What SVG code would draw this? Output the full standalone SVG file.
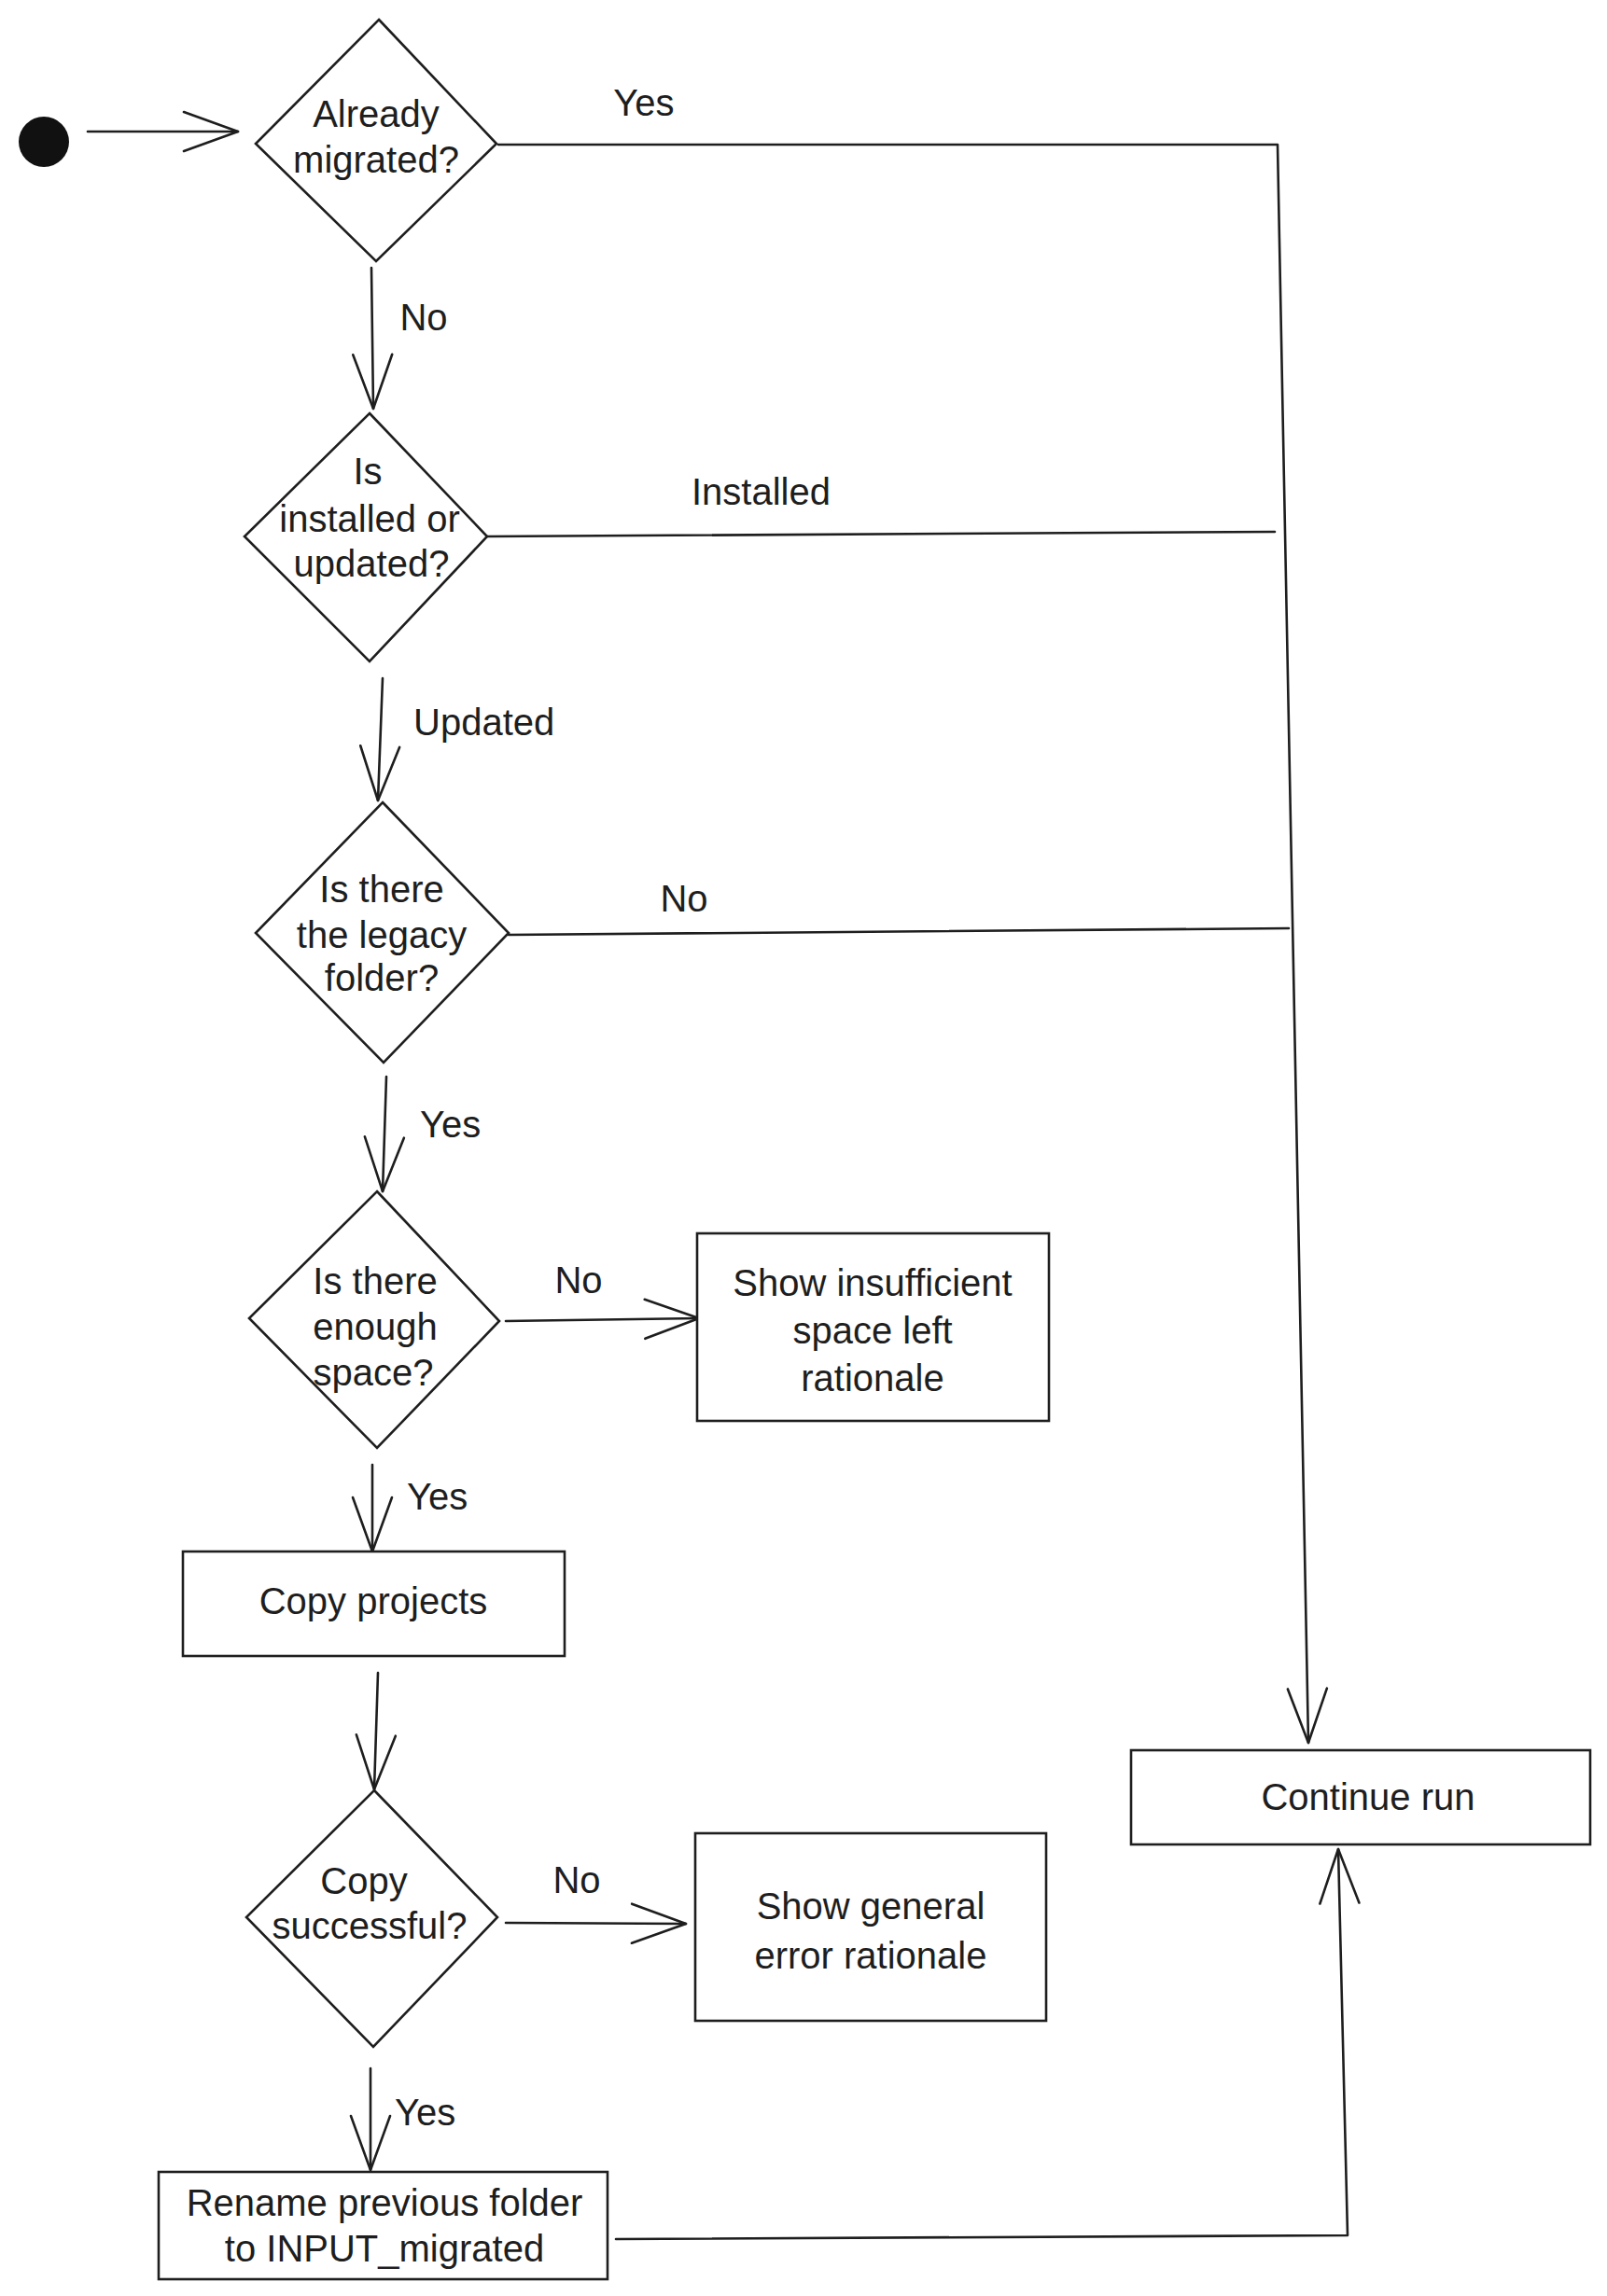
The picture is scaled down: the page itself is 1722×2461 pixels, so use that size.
<svg xmlns="http://www.w3.org/2000/svg" width="1722" height="2461" viewBox="0 0 1722 2461">
<style>
.shape{fill:#ffffff;stroke:#1e1e1e;stroke-width:2.6;stroke-linejoin:miter}
.edge{fill:none;stroke:#1e1e1e;stroke-width:2.6;stroke-linecap:round;stroke-linejoin:round}
.t{font-family:"Liberation Sans",Arial,sans-serif;font-size:40px;fill:#1e1e1e;text-anchor:middle}
.l{font-family:"Liberation Sans",Arial,sans-serif;font-size:40px;fill:#1e1e1e}
</style>
<defs>
<marker id="arr" viewBox="-64 -28 70 56" refX="0" refY="0" markerWidth="70" markerHeight="56" markerUnits="userSpaceOnUse" orient="auto">
<path d="M-58,-21 L0,0 L-58,21" fill="none" stroke="#1e1e1e" stroke-width="2.6" stroke-linecap="round" stroke-linejoin="round"/>
</marker>
</defs>
<rect width="1722" height="2461" fill="#ffffff"/>

<g id="connectors">
<path class="edge" d="M94,141 L255,141" marker-end="url(#arr)"/>
<path class="edge" d="M534,155 L1369,155 L1402,1868" marker-end="url(#arr)"/>
<path class="edge" d="M398,287 L400,438" marker-end="url(#arr)"/>
<path class="edge" d="M522,575 L1366,570"/>
<path class="edge" d="M410,727 L405,858" marker-end="url(#arr)"/>
<path class="edge" d="M545,1002 L1381,995"/>
<path class="edge" d="M414,1154 L410,1277" marker-end="url(#arr)"/>
<path class="edge" d="M542,1416 L749,1413" marker-end="url(#arr)"/>
<path class="edge" d="M399,1570 L399,1663" marker-end="url(#arr)"/>
<path class="edge" d="M405,1793 L401,1918" marker-end="url(#arr)"/>
<path class="edge" d="M542,2061 L735,2062" marker-end="url(#arr)"/>
<path class="edge" d="M397,2217 L397,2326" marker-end="url(#arr)"/>
<path class="edge" d="M660,2400 L1444,2396 L1434,1982" marker-end="url(#arr)"/>
<text class="l" x="690" y="124" text-anchor="middle">Yes</text>
<text class="l" x="454" y="354" text-anchor="middle">No</text>
<text class="l" x="741" y="541">Installed</text>
<text class="l" x="443" y="788">Updated</text>
<text class="l" x="733" y="977" text-anchor="middle">No</text>
<text class="l" x="450" y="1219">Yes</text>
<text class="l" x="620" y="1386" text-anchor="middle">No</text>
<text class="l" x="436" y="1618">Yes</text>
<text class="l" x="618" y="2029" text-anchor="middle">No</text>
<text class="l" x="423" y="2278">Yes</text>
</g>

<g id="start">
<circle cx="47" cy="152" r="27" fill="#111111"/>
</g>

<g id="already-migrated">
<polygon class="shape" points="406,21 532,154 403,280 274,154"/>
<text class="t" x="403" y="136">Already</text>
<text class="t" x="403" y="185">migrated?</text>
</g>

<g id="installed-or-updated">
<polygon class="shape" points="396,443 522,575 396,709 262,575"/>
<text class="t" x="394" y="519">Is</text>
<text class="t" x="396" y="570">installed or</text>
<text class="t" x="398" y="618">updated?</text>
</g>

<g id="legacy-folder">
<polygon class="shape" points="410,860 545,1000 411,1139 274,1000"/>
<text class="t" x="409" y="967">Is there</text>
<text class="t" x="409" y="1016">the legacy</text>
<text class="t" x="409" y="1062">folder?</text>
</g>

<g id="enough-space">
<polygon class="shape" points="404,1277 535,1416 404,1552 267,1413"/>
<text class="t" x="402" y="1387">Is there</text>
<text class="t" x="402" y="1436">enough</text>
<text class="t" x="400" y="1485">space?</text>
</g>

<g id="insufficient-space">
<rect class="shape" x="747" y="1322" width="377" height="201"/>
<text class="t" x="935" y="1389">Show insufficient</text>
<text class="t" x="935" y="1440">space left</text>
<text class="t" x="935" y="1491">rationale</text>
</g>

<g id="copy-projects">
<rect class="shape" x="196" y="1663" width="409" height="112"/>
<text class="t" x="400" y="1730">Copy projects</text>
</g>

<g id="copy-successful">
<polygon class="shape" points="401,1919 533,2055 400,2194 264,2055"/>
<text class="t" x="390" y="2030">Copy</text>
<text class="t" x="396" y="2078">successful?</text>
</g>

<g id="general-error">
<rect class="shape" x="745" y="1965" width="376" height="201"/>
<text class="t" x="933" y="2057">Show general</text>
<text class="t" x="933" y="2110">error rationale</text>
</g>

<g id="rename-folder">
<rect class="shape" x="170" y="2328" width="481" height="115"/>
<text class="t" x="412" y="2375">Rename previous folder</text>
<text class="t" x="412" y="2424">to INPUT_migrated</text>
</g>

<g id="continue-run">
<rect class="shape" x="1212" y="1876" width="492" height="101"/>
<text class="t" x="1466" y="1940">Continue run</text>
</g>
</svg>
